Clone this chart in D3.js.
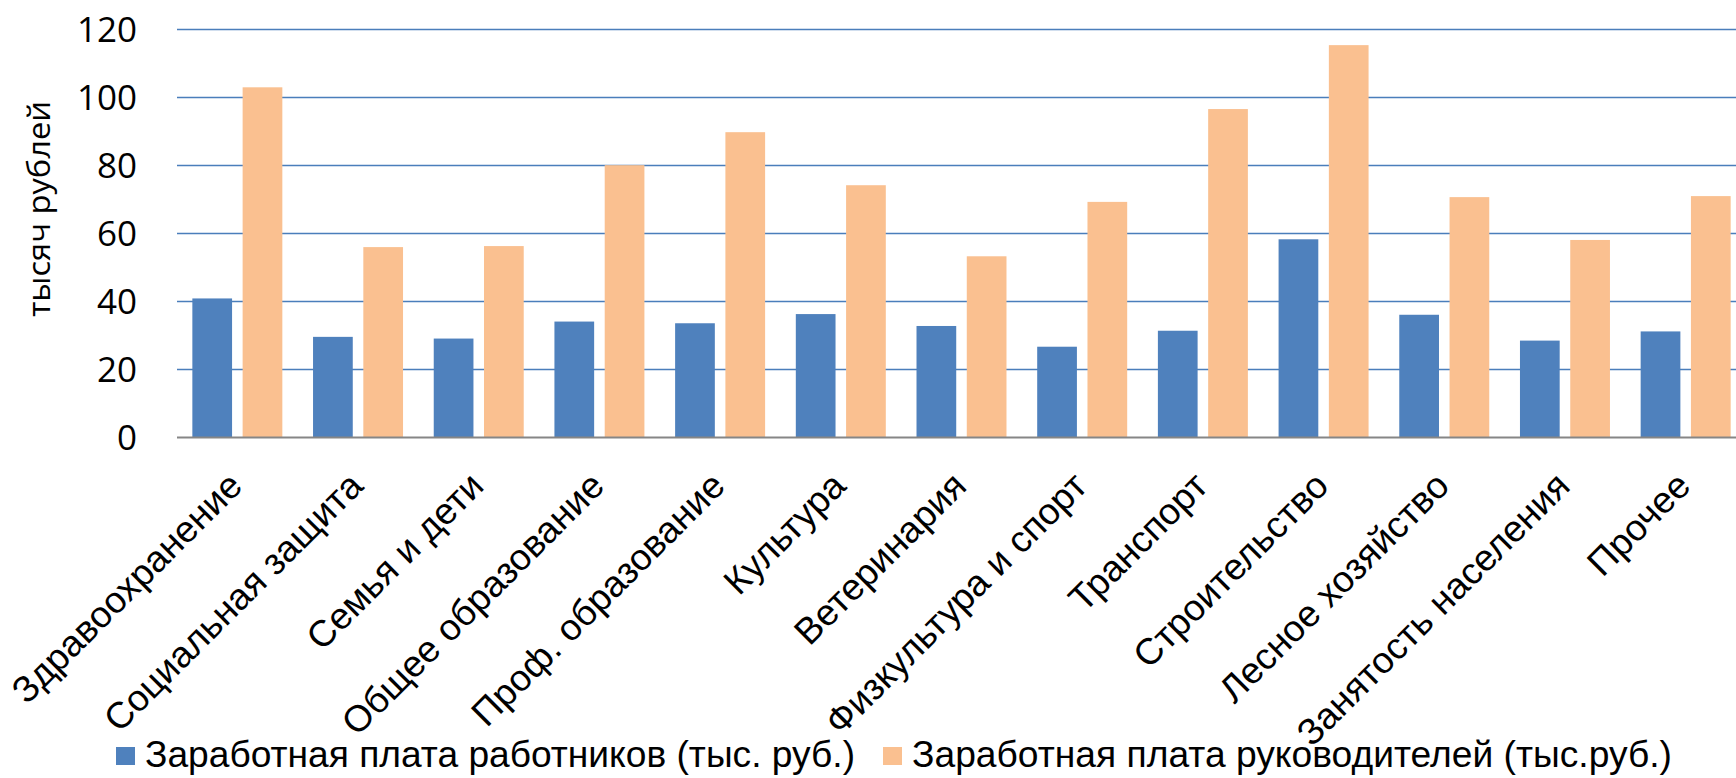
<!DOCTYPE html>
<html>
<head>
<meta charset="utf-8">
<script src="https://cdn.jsdelivr.net/npm/d3@7"></script>
<style>
  html, body { margin: 0; padding: 0; background: #fff; overflow: hidden; }
  svg { display: block; }
</style>
</head>
<body>
<svg id="chart"></svg>
<script>
// data
const categories = [
  "Здравоохранение", "Социальная защита", "Семья и дети", "Общее образование",
  "Проф. образование", "Культура", "Ветеринария", "Физкультура и спорт",
  "Транспорт", "Строительство", "Лесное хозяйство", "Занятость населения", "Прочее"
];
const workers = [40.9, 29.6, 29.1, 34.1, 33.6, 36.3, 32.8, 26.7, 31.4, 58.3, 36.1, 28.5, 31.2];
const managers = [103.0, 56.0, 56.3, 80.1, 89.8, 74.2, 53.3, 69.3, 96.6, 115.4, 70.7, 58.1, 71.0];
const seriesNames = [
  "Заработная плата работников (тыс. руб.)",
  "Заработная плата руководителей (тыс.руб.)"
];
const seriesColors = ["#4f81bd", "#fac090"];
const yTicks = [0, 20, 40, 60, 80, 100, 120];
const yTitle = "тысяч рублей";

const width = 1736, height = 778;
const plot = {left: 177, right: 1746, top: 29.5, bottom: 437.5};

const svg = d3.select("#chart")
  .attr("width", width)
  .attr("height", height)
  .attr("viewBox", [0, 0, width, height]);

const x = d3.scaleBand()
  .domain(categories)
  .range([plot.left, plot.right])
  .paddingInner(0.2544)
  .paddingOuter(0.1272);

const xSub = d3.scaleBand()
  .domain([0, 1])
  .range([0, x.bandwidth()])
  .paddingInner(0.21);

const y = d3.scaleLinear()
  .domain([0, 120])
  .range([plot.bottom, plot.top]);

// gridlines
svg.append("g")
  .selectAll("line")
  .data(yTicks.filter(d => d > 0))
  .join("line")
  .attr("x1", plot.left)
  .attr("x2", plot.right)
  .attr("y1", d => y(d))
  .attr("y2", d => y(d))
  .attr("stroke", "#4a7ebb")
  .attr("stroke-width", 1.4);

// y tick labels
svg.append("g")
  .selectAll("text")
  .data(yTicks)
  .join("text")
  .attr("x", 137)
  .attr("y", d => y(d))
  .attr("dy", "0.36em")
  .attr("text-anchor", "end")
  .style("font-family", "'Open Sans', 'Noto Sans', sans-serif")
  .style("font-size", "35px")
  .attr("fill", "#000")
  .text(d => d);

// y title
svg.append("text")
  .attr("transform", "translate(50,209) rotate(-90)")
  .attr("text-anchor", "middle")
  .attr("textLength", 216)
  .attr("lengthAdjust", "spacingAndGlyphs")
  .style("font-family", "'Open Sans', 'Noto Sans', sans-serif")
  .style("font-size", "31px")
  .attr("fill", "#000")
  .text(yTitle);

// bars
const rows = categories.map((c, i) => ({cat: c, values: [workers[i], managers[i]]}));

svg.append("g")
  .selectAll("g")
  .data(rows)
  .join("g")
  .attr("transform", d => `translate(${x(d.cat)},0)`)
  .selectAll("rect")
  .data(d => d.values.map((v, k) => ({k, v})))
  .join("rect")
  .attr("x", d => xSub(d.k))
  .attr("width", xSub.bandwidth())
  .attr("y", d => y(d.v))
  .attr("height", d => y(0) - y(d.v))
  .attr("fill", d => seriesColors[d.k]);

// baseline
svg.append("line")
  .attr("x1", plot.left)
  .attr("x2", plot.right)
  .attr("y1", y(0))
  .attr("y2", y(0))
  .attr("stroke", "#868686")
  .attr("stroke-width", 2);

// category labels, rotated 45 degrees
svg.append("g")
  .selectAll("text")
  .data(categories)
  .join("text")
  .attr("transform", d => `translate(${x(d) + x.bandwidth() / 2 + 7},488) rotate(-45)`)
  .attr("text-anchor", "end")
  .style("font-family", "'Liberation Sans', Arial, sans-serif")
  .style("font-size", "37px")
  .attr("fill", "#000")
  .text(d => d);

// legend
const legendItems = [
  {box: 116, text: 145, len: 710},
  {box: 883, text: 912, len: 760}
];

const legend = svg.append("g")
  .selectAll("g")
  .data(legendItems)
  .join("g");

legend.append("rect")
  .attr("x", d => d.box)
  .attr("y", 747)
  .attr("width", 19)
  .attr("height", 18)
  .attr("fill", (d, i) => seriesColors[i]);

legend.append("text")
  .attr("x", d => d.text)
  .attr("y", 767)
  .attr("textLength", d => d.len)
  .attr("lengthAdjust", "spacingAndGlyphs")
  .style("font-family", "'Liberation Sans', Arial, sans-serif")
  .style("font-size", "36px")
  .attr("fill", "#000")
  .text((d, i) => seriesNames[i]);
</script>
</body>
</html>
